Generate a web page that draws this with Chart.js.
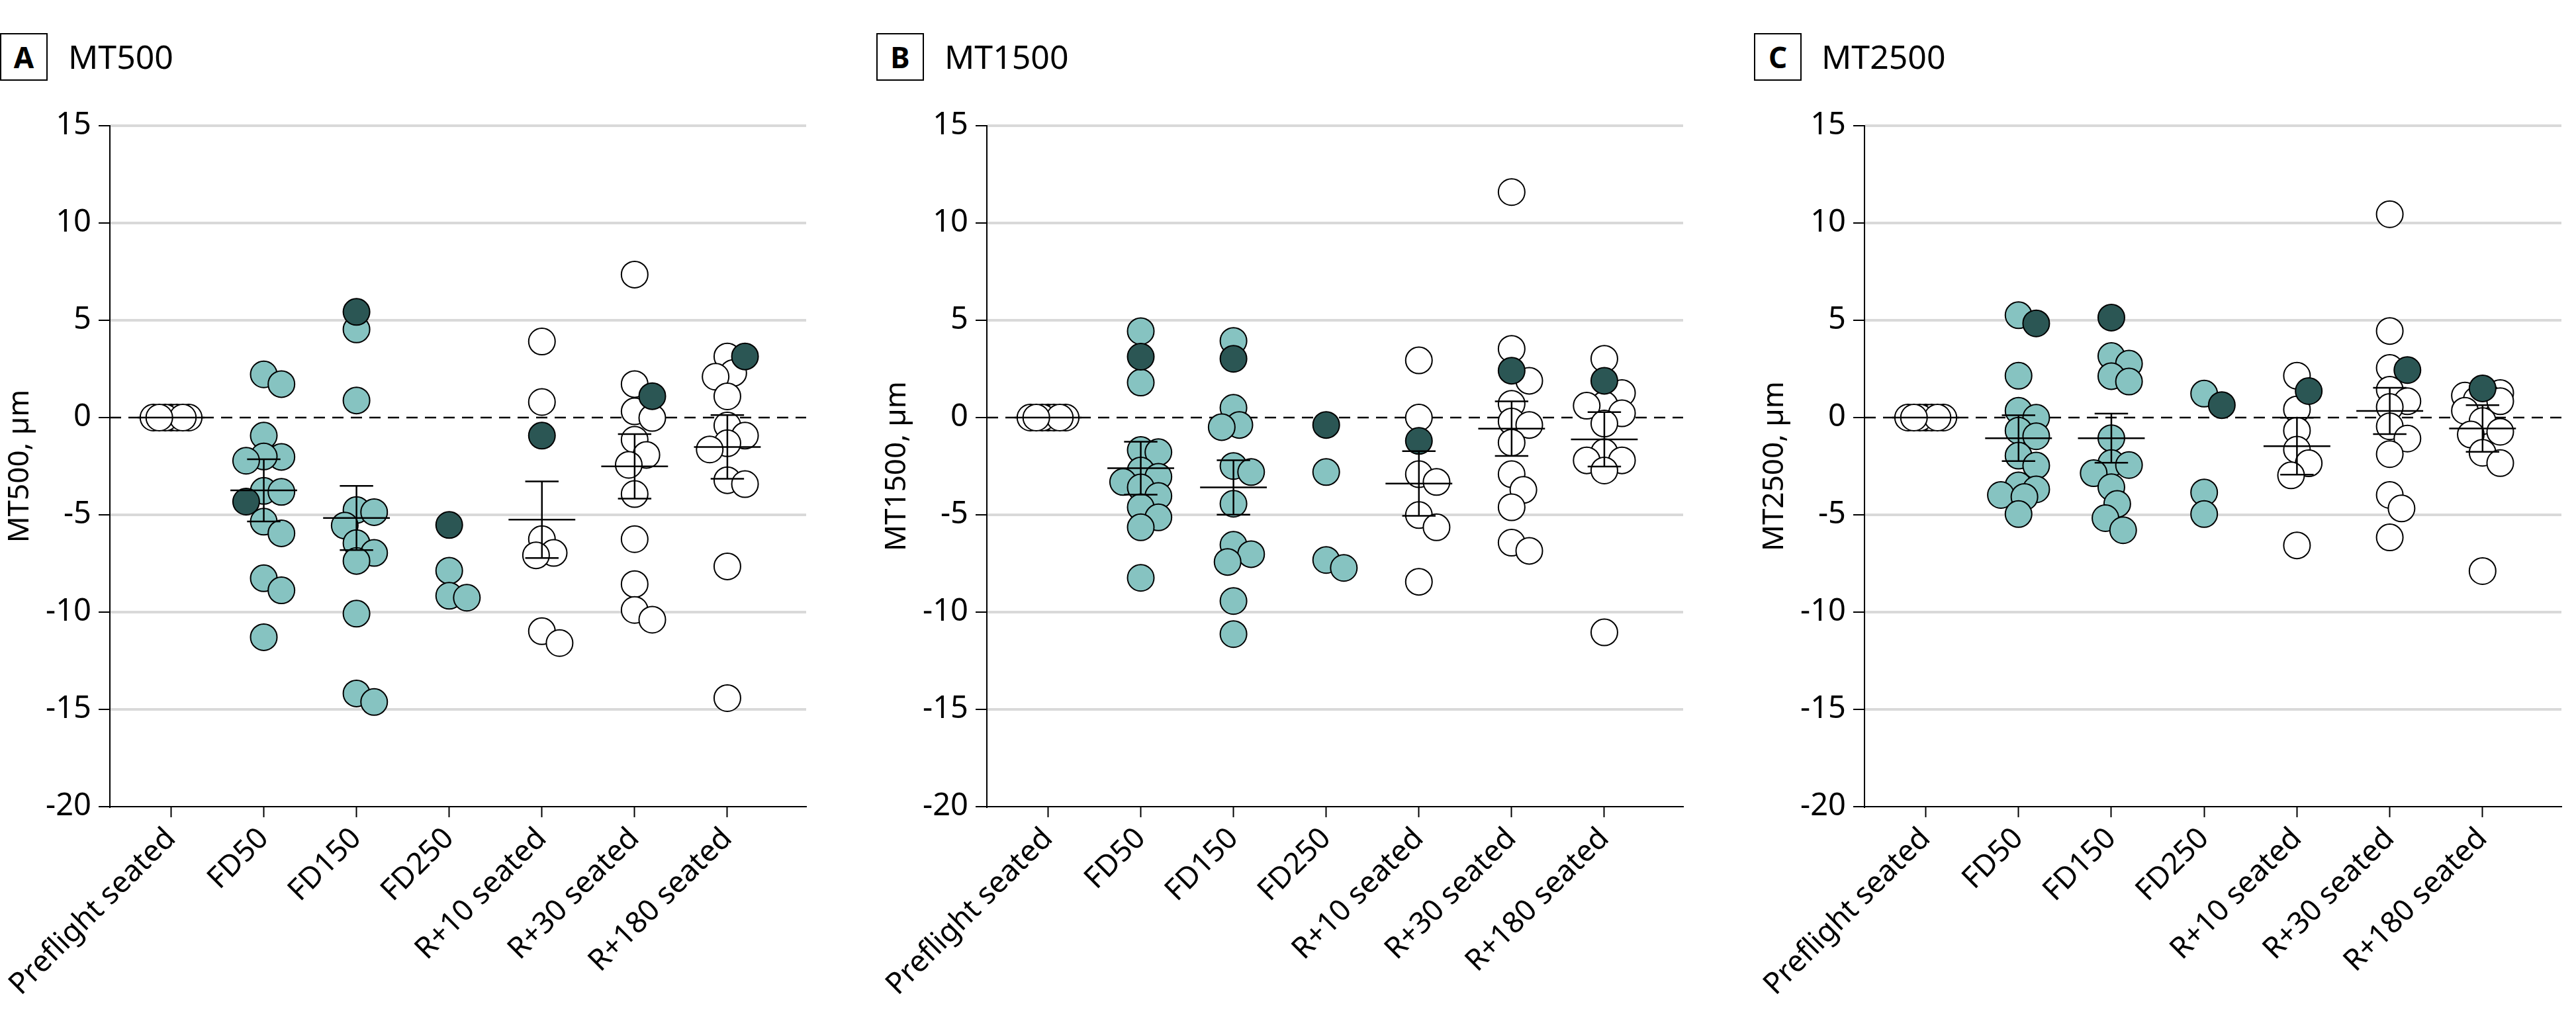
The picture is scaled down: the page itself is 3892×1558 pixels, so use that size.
<!DOCTYPE html>
<html>
<head>
<meta charset="utf-8">
<script src="https://cdn.jsdelivr.net/npm/chart.js@4.4.1/dist/chart.umd.min.js"></script>
<style>
  body { margin: 0; width: 3892px; height: 1558px; background: #fff; position: relative; overflow: hidden; font-family: "Noto Sans", sans-serif; }
  canvas { position: absolute; top: 0; }
  .tag { position: absolute; top: 50px; width: 68px; height: 68px; border: 2px solid #000; display: flex; align-items: center; justify-content: center; font-weight: bold; font-size: 44px; line-height: 1; }
  .title { position: absolute; top: 60px; font-size: 50px; line-height: 50px; }
</style>
</head>
<body>
<div class="tag" style="left:0px">A</div><div class="title" style="left:103px">MT500</div>
<div class="tag" style="left:1324px">B</div><div class="title" style="left:1427px">MT1500</div>
<div class="tag" style="left:2650px">C</div><div class="title" style="left:2752px">MT2500</div>
<canvas id="chartA" width="1240" height="1558" style="left:0px"></canvas>
<canvas id="chartB" width="1240" height="1558" style="left:1325px"></canvas>
<canvas id="chartC" width="1241" height="1558" style="left:2651px"></canvas>
<script>
const categories = ["Preflight seated", "FD50", "FD150", "FD250", "R+10 seated", "R+30 seated", "R+180 seated"];
const inflight = [false, true, true, true, false, false, false];
const yTicks = [15, 10, 5, 0, -5, -10, -15, -20];

// MT500 (panel A) - other subjects per timepoint, the highlighted subject, mean and error
const mt500Values = [
    [0, 0, 0, 0, 0, 0, 0],
    [2.22, 1.72, -0.93, -2.02, -2.0, -2.22, -3.77, -3.82, -5.35, -5.95, -8.26, -8.88, -11.29],
    [4.53, 0.88, -4.75, -4.86, -5.55, -6.45, -6.96, -7.37, -10.08, -14.18, -14.62],
    [-7.87, -9.16, -9.26],
    [3.91, 0.80, -6.25, -6.96, -7.08, -10.98, -11.59],
    [7.35, 1.72, 0.32, -0.02, -1.14, -1.92, -2.43, -3.93, -6.25, -8.56, -9.89, -10.39],
    [3.14, 2.29, 2.10, 1.09, -0.41, -0.93, -1.32, -1.64, -3.22, -3.42, -7.65, -14.42]
];
const mt500Marked = [null, -4.32, 5.43, -5.52, -0.93, 1.10, 3.14];
const mt500Mean = [0, -3.74, -5.16, null, -5.25, -2.51, -1.51];
const mt500Err = [0, 1.6, 1.65, null, 1.97, 1.66, 1.64];

// MT1500 (panel B)
const mt1500Values = [
    [0, 0, 0, 0, 0, 0, 0],
    [4.44, 1.80, -1.67, -1.78, -2.72, -3.04, -3.31, -3.59, -4.03, -4.61, -5.13, -5.64, -8.24],
    [3.94, 0.50, -0.38, -0.49, -2.49, -2.80, -4.43, -6.54, -7.02, -7.42, -9.43, -11.13],
    [-2.80, -7.32, -7.73],
    [2.94, 0.0, -2.91, -3.31, -5.01, -5.64, -8.44],
    [11.59, 3.53, 1.89, 0.71, -0.20, -0.38, -1.29, -2.91, -3.72, -4.61, -6.43, -6.85],
    [3.02, 1.26, 0.66, 0.61, 0.22, -0.31, -1.78, -2.20, -2.20, -2.72, -11.04]
];
const mt1500Marked = [null, 3.13, 3.02, -0.38, -1.20, 2.41, 1.89];
const mt1500Mean = [0, -2.6, -3.59, null, -3.39, -0.57, -1.12];
const mt1500Err = [0, 1.36, 1.4, null, 1.66, 1.4, 1.4];

// MT2500 (panel C)
const mt2500Values = [
    [0, 0, 0, 0, 0, 0, 0],
    [5.26, 2.15, 0.35, -0.01, -0.67, -0.96, -1.96, -2.47, -3.49, -3.69, -3.98, -4.08, -4.96],
    [3.16, 2.77, 2.13, 1.85, -1.06, -2.34, -2.44, -2.86, -3.58, -4.44, -5.17, -5.79],
    [1.23, -3.85, -4.96],
    [2.15, 0.42, -0.67, -1.65, -2.35, -2.97, -6.57],
    [10.45, 4.45, 2.55, 1.43, 0.84, 0.54, -0.45, -1.08, -1.88, -3.98, -4.67, -6.16],
    [1.26, 1.13, 1.0, 0.91, 0.84, 0.35, -0.18, -0.73, -0.87, -1.81, -2.34, -7.89]
];
const mt2500Marked = [null, 4.84, 5.14, 0.64, 1.36, 2.44, 1.50];
const mt2500Mean = [0, -1.06, -1.06, null, -1.47, 0.34, -0.56];
const mt2500Err = [0, 1.18, 1.26, null, 1.46, 1.19, 1.2];

// layout
const X_MIN = -0.66, X_MAX = 6.85;
const PLOT_TOP = 190, PLOT_BOTTOM = 1219, AXIS_W = 166, PLOT_W = 1066;
const FONT = "'Noto Sans', sans-serif";
const fills = { ground: "#ffffff", flight: "#86c3c1", marked: "#2b5654" };

// simple beeswarm: spread points sideways (in px) so circles do not pile up
function swarm(values, center) {
    const pxX = PLOT_W / (X_MAX - X_MIN);
    const pxY = (PLOT_BOTTOM - PLOT_TOP) / 35;
    const steps = [0, 9, -9, 18, -18, 27, -27];
    const placed = [];
    const xs = new Array(values.length);
    const order = values.map((v, i) => i).sort((a, b) => values[b] - values[a]);
    for (const i of order) {
        const py = values[i] * pxY;
        let best = 0, bestD = -1;
        for (const s of steps) {
            let d = Infinity;
            for (const p of placed) d = Math.min(d, Math.hypot(s - p.x, py - p.y));
            if (d >= 26) { best = s; break; }
            if (d > bestD) { bestD = d; best = s; }
        }
        placed.push({ x: best, y: py });
        xs[i] = center + best / pxX;
    }
    return xs;
}

function buildPoints(values, marked) {
    let pts = [];
    let top = [];
    categories.forEach((c, i) => {
        let vals = values[i].slice();
        if (marked[i] !== null) vals.push(marked[i]);
        let xs = swarm(vals, i);
        vals.forEach((v, k) => {
            let kind = (marked[i] !== null && k === vals.length - 1) ? "marked" : (inflight[i] ? "flight" : "ground");
            let pt = { x: xs[k], y: v, kind: kind };
            if (kind === "marked") top.push(pt); else pts.push(pt);
        });
    });
    return pts.concat(top);
}

function summaryPlugin(mean, err) {
    return {
        id: "summary",
        beforeDatasetsDraw(chart) {
            const { ctx, chartArea, scales } = chart;
            const y0 = scales.y.getPixelForValue(0);
            ctx.save();
            ctx.setLineDash([17, 11]);
            ctx.lineWidth = 2.5;
            ctx.strokeStyle = "#000";
            ctx.beginPath();
            ctx.moveTo(chartArea.left, y0);
            ctx.lineTo(chartArea.right, y0);
            ctx.stroke();
            ctx.restore();
        },
        afterDatasetsDraw(chart) {
            const { ctx, scales } = chart;
            const x = scales.x, y = scales.y;
            ctx.save();
            ctx.lineWidth = 2.5;
            ctx.strokeStyle = "#000";
            const seg = (x1, y1, x2, y2) => {
                ctx.beginPath();
                ctx.moveTo(x.getPixelForValue(x1), y.getPixelForValue(y1));
                ctx.lineTo(x.getPixelForValue(x2), y.getPixelForValue(y2));
                ctx.stroke();
            };
            mean.forEach((m, i) => {
                if (m === null) return;
                const e = err[i];
                seg(i - 0.36, m, i + 0.36, m);
                if (e > 0) {
                    seg(i, m - e, i, m + e);
                    seg(i - 0.18, m + e, i + 0.18, m + e);
                    seg(i - 0.18, m - e, i + 0.18, m - e);
                }
            });
            ctx.restore();
        }
    };
}

function createPanel(id, label, values, marked, mean, err) {
    const elem = document.getElementById(id);
    return new Chart(elem, {
        type: "scatter",
        data: {
            datasets: [{
                data: buildPoints(values, marked),
                pointRadius: 20,
                pointHoverRadius: 20,
                pointBorderColor: "#000",
                pointBorderWidth: 2,
                pointBackgroundColor: c => (c.raw ? fills[c.raw.kind] : "#fff")
            }]
        },
        options: {
            responsive: false,
            animation: false,
            events: [],
            layout: { padding: { top: PLOT_TOP, right: elem.width - AXIS_W - PLOT_W, left: 0, bottom: 0 } },
            plugins: { legend: { display: false }, tooltip: { enabled: false } },
            scales: {
                x: {
                    type: "linear",
                    min: X_MIN,
                    max: X_MAX,
                    afterBuildTicks: s => { s.ticks = categories.map((c, i) => ({ value: i })); },
                    afterFit: s => { s.height = 1558 - PLOT_BOTTOM; s.paddingLeft = 0; s.paddingRight = 0; },
                    grid: { drawOnChartArea: false, drawTicks: true, tickLength: 16, tickColor: "#000", tickWidth: 2 },
                    border: { display: true, color: "#000", width: 2 },
                    ticks: {
                        autoSkip: false, maxRotation: 45, minRotation: 45, padding: 6, color: "#000",
                        font: { family: FONT, size: 45 },
                        callback: v => categories[v]
                    }
                },
                y: {
                    min: -20,
                    max: 15,
                    afterBuildTicks: s => { s.ticks = yTicks.map(v => ({ value: v })); },
                    afterFit: s => { s.width = AXIS_W; },
                    grid: {
                        color: c => (c.tick && (c.tick.value === 0 || c.tick.value === -20)) ? "rgba(0,0,0,0)" : "#d9d9d9",
                        lineWidth: 4, tickColor: "#000", tickWidth: 2, tickLength: 17
                    },
                    border: { display: true, color: "#000", width: 2 },
                    ticks: { padding: 11, color: "#000", font: { family: FONT, size: 47 }, callback: v => String(v) },
                    title: { display: true, text: label, color: "#000", font: { family: FONT, size: 44 }, padding: { top: 4, bottom: 0 } }
                }
            }
        },
        plugins: [summaryPlugin(mean, err)]
    });
}

createPanel("chartA", "MT500, µm", mt500Values, mt500Marked, mt500Mean, mt500Err);
createPanel("chartB", "MT1500, µm", mt1500Values, mt1500Marked, mt1500Mean, mt1500Err);
createPanel("chartC", "MT2500, µm", mt2500Values, mt2500Marked, mt2500Mean, mt2500Err);
</script>
</body>
</html>
